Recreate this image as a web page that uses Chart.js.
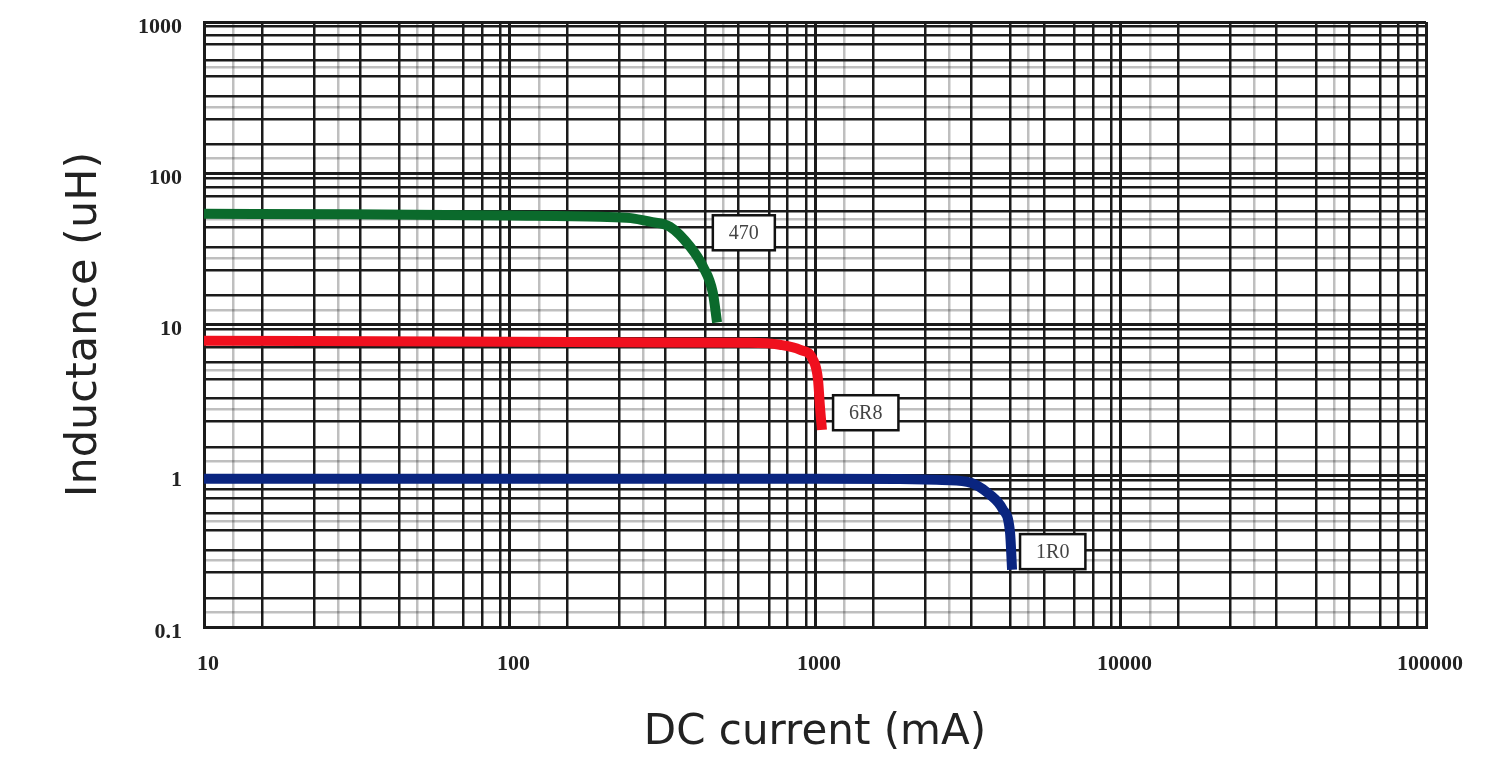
<!DOCTYPE html>
<html><head><meta charset="utf-8">
<script src="https://cdn.jsdelivr.net/npm/chart.js@4/dist/chart.umd.min.js"></script>
<style>html,body{margin:0;padding:0;background:#fff;} #wrap{width:1512px;height:758px;position:relative;}</style>
</head><body><div id="wrap"><canvas id="c" width="1512" height="758"></canvas></div>
<script>
// ---- data ----
const xDecades = [10, 100, 1000, 10000, 100000];
const xTickLabels = ['10', '100', '1000', '10000', '100000'];
const yDecades = [0.1, 1, 10, 100, 1000];
const yTickLabels = ['0.1', '1', '10', '100', '1000'];
const gridSteps = [1.55, 2.29, 3.24, 4.37, 5.62, 7.08, 8.13, 9.33];
const lightSteps = [1.25, 2.75, 5.0];

const seriesNames = ['470', '6R8', '1R0'];
const current470 = [10, 30, 100, 198, 250, 288, 335, 390, 430, 463, 478];
const induct470  = [54, 53.5, 52.5, 51.6, 50.5, 47.8, 44.3, 32.7, 24.1, 16.2, 10.3];
const current6R8 = [10, 100, 300, 612, 767, 893, 985, 1023, 1038, 1054];
const induct6R8  = [7.8, 7.7, 7.6, 7.57, 7.35, 6.81, 5.85, 4.31, 2.86, 2.01];
const current1R0 = [10, 100, 1000, 1897, 2500, 3146, 3741, 4125, 4350, 4416];
const induct1R0  = [0.955, 0.955, 0.955, 0.95, 0.94, 0.913, 0.749, 0.596, 0.42, 0.239];
const labelCurrent = [463, 1146, 4690];
const labelInduct  = [40.4, 2.61, 0.315];

// ---- helpers ----
function pts(xs, ys){ return xs.map((x,i)=>({x:x, y:ys[i]})); }
function buildGrid(decades){
  const vals = [];
  decades.forEach((d,i)=>{
    vals.push({value:d, kind:'major'});
    if(i < decades.length-1){
      gridSteps.forEach(s=>vals.push({value:d*s, kind:'minor'}));
      lightSteps.forEach(s=>vals.push({value:d*s, kind:'light'}));
    }
  });
  return vals.sort((a,b)=>a.value-b.value);
}
function labelFor(decades, labels, v){
  for(let i=0;i<decades.length;i++){ if(Math.abs(v/decades[i]-1)<1e-6) return labels[i]; }
  return '';
}
const gridColor = ctx => (ctx.tick && ctx.tick.kind==='light') ? 'rgba(0,0,0,0.25)' : '#1b1b1b';
const gridWidth = ctx => (ctx.tick && ctx.tick.kind==='major') ? 3 : 2.5;

const boxLabels = {
  id:'boxLabels',
  afterDatasetsDraw(chart){
    const c = chart.ctx, xs = chart.scales.x, ys = chart.scales.y;
    c.save();
    c.font = '20px "Liberation Serif", serif';
    seriesNames.forEach((t,i)=>{
      const x = xs.getPixelForValue(labelCurrent[i]);
      const y = ys.getPixelForValue(labelInduct[i]);
      const w = c.measureText(t).width + 32, h = 35;
      c.fillStyle = '#fff'; c.fillRect(x, y-h/2, w, h);
      c.strokeStyle = '#111'; c.lineWidth = 2.5; c.strokeRect(x, y-h/2, w, h);
      c.fillStyle = '#444'; c.textAlign = 'center'; c.textBaseline = 'middle';
      c.fillText(t, x+w/2, y+1);
    });
    c.restore();
  }
};

new Chart(document.getElementById('c'), {
  type:'line',
  data:{ datasets:[
    {label:seriesNames[0], data:pts(current470, induct470), borderColor:'#0b6a2c'},
    {label:seriesNames[1], data:pts(current6R8, induct6R8), borderColor:'#f0101e'},
    {label:seriesNames[2], data:pts(current1R0, induct1R0), borderColor:'#0a2580'}
  ]},
  options:{
    responsive:false, animation:false,
    layout:{padding:{top:22, right:86, bottom:0, left:0}},
    elements:{ line:{borderWidth:10, cubicInterpolationMode:'monotone', fill:false}, point:{radius:0, hoverRadius:0} },
    plugins:{ legend:{display:false}, tooltip:{enabled:false} },
    scales:{
      x:{
        type:'logarithmic', min:10, max:100000,
        afterBuildTicks: s => { s.ticks = buildGrid(xDecades); },
        afterFit: s => { s.height = 131; s.paddingLeft = 0; s.paddingRight = 0; },
        grid:{ color:gridColor, lineWidth:gridWidth, drawTicks:false },
        border:{ display:true, color:'#1b1b1b', width:3 },
        ticks:{ autoSkip:false, maxRotation:0, padding:24, labelOffset:4, color:'#222',
          font:{family:'"Liberation Serif", serif', size:22, weight:'bold'},
          callback:(v)=>labelFor(xDecades, xTickLabels, v) },
        title:{ display:true, text:'DC current (mA)', color:'#222',
          font:{family:'"DejaVu Sans", sans-serif', size:42}, padding:{top:0, bottom:0} }
      },
      y:{
        type:'logarithmic', min:0.1, max:1000,
        afterBuildTicks: s => { s.ticks = buildGrid(yDecades); },
        afterFit: s => { s.width = 204; s.paddingTop = 0; s.paddingBottom = 0; },
        grid:{ color:gridColor, lineWidth:gridWidth, drawTicks:false },
        border:{ display:true, color:'#1b1b1b', width:3 },
        ticks:{ autoSkip:false, padding:22, labelOffset:5, color:'#222',
          font:{family:'"Liberation Serif", serif', size:22, weight:'bold'},
          callback:(v)=>labelFor(yDecades, yTickLabels, v) },
        title:{ display:true, text:'Inductance (uH)', color:'#222',
          font:{family:'"DejaVu Sans", sans-serif', size:43}, padding:{top:59, bottom:0} }
      }
    }
  },
  plugins:[boxLabels]
});
</script></body></html>
